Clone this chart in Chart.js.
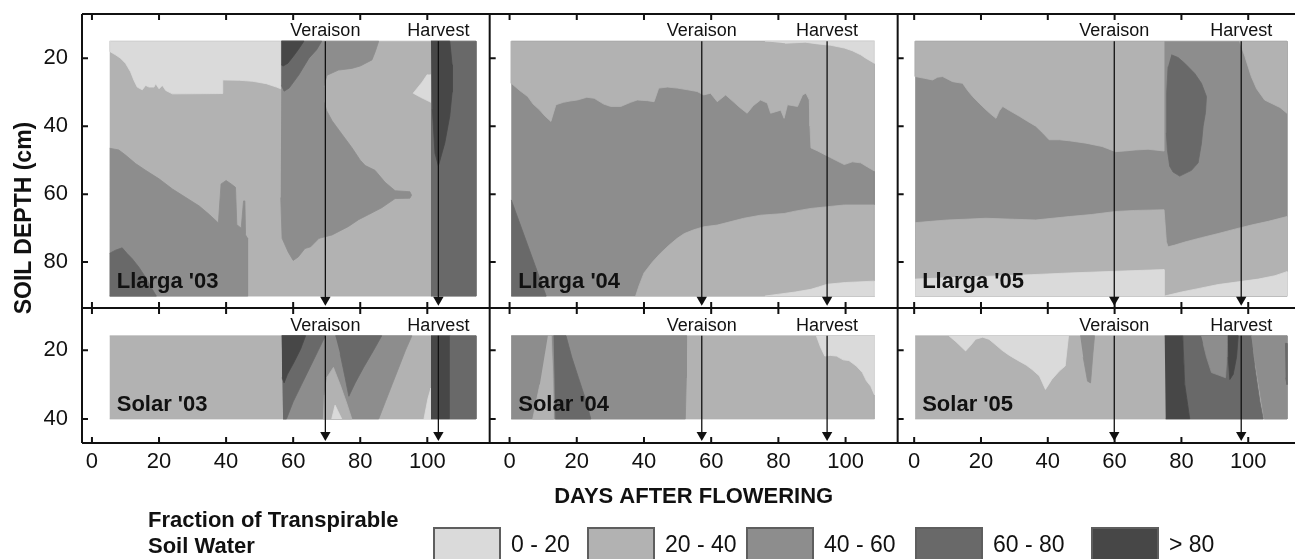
<!DOCTYPE html>
<html>
<head>
<meta charset="utf-8">
<script src="https://cdn.jsdelivr.net/npm/chart.js@4.4.0/dist/chart.umd.min.js"></script>
<style>
	body { margin: 0; background: #fff; width: 1301px; height: 559px; overflow: hidden; position: relative; font-family: 'Liberation Sans', Arial, sans-serif; color: #111; }
	#chart { position: absolute; left: 0; top: 0; }
	#ytitle { position: absolute; left: -97px; top: 205px; width: 240px; text-align: center; font: bold 23px 'Liberation Sans', Arial, sans-serif; line-height: 26px; transform: rotate(-90deg); }
	.ltitle { position: absolute; left: 148px; font: bold 22px 'Liberation Sans', Arial, sans-serif; line-height: 22px; white-space: nowrap; }
	.swatch { position: absolute; top: 527px; width: 64px; height: 36px; border: 2px solid #5e5e5e; }
	.slabel { position: absolute; top: 533px; font: 23px 'Liberation Sans', Arial, sans-serif; line-height: 23px; white-space: nowrap; }
</style>
</head>
<body>
<canvas id="chart" width="1301" height="559"></canvas>
<div id="ytitle">SOIL DEPTH (cm)</div>
<div id="legend"></div>
<script>
// fraction of transpirable soil water classes (%), lightest = driest
const fractionClasses = ["0 - 20", "20 - 40", "40 - 60", "60 - 80", "> 80"];
const classColors = ["#dadada", "#b2b2b2", "#8d8d8d", "#696969", "#474747"];

const panelNames = ["Llarga '03", "Llarga '04", "Llarga '05", "Solar '03", "Solar '04", "Solar '05"];
const dayTicks = [0, 20, 40, 60, 80, 100];
const depthTicksLlarga = [20, 40, 60, 80];
const depthTicksSolar = [20, 40];

// phenology per season ('03, '04, '05), days after flowering
const veraisonDay = [69.6, 57.2, 59.9];
const harvestDay = [103.3, 94.5, 97.9];

// record extent: first/last day per season, depth per site (cm)
const firstDay = [5.3, 0.5, 0.3];
const lastDay = [114.5, 108.6, 111.6];
const depthRangeLlarga = [15, 90];
const depthRangeSolar = [15.8, 40];
const arrowEnd = [91.1, 44.7];

// class that fills each panel before the contours are laid on
const baseClass = [1, 2, 2, 1, 1, 1];

// ---- Llarga '03 contours [day, depth]
const l03Dry = [[5.3,15],[5.3,18],[7,19],[8.5,20],[10,21.5],[11.5,24],[12.5,26.5],[13.5,28.5],[15,29.3],[16,28],[17,28.5],[18.5,28.5],[19,27.5],[20,29],[21,28],[22,29.5],[24,30.5],[39,30.4],[39,26.4],[44,26.5],[48,26.8],[52,27.5],[55,28.5],[56.3,29],[56.3,15]];
const l03DryPocket = [[100,24.8],[98.5,27],[95.8,30.3],[98,31.5],[101.1,33],[101.1,24.8]];
const l03Deep = [[5.3,46.5],[8,47],[10,48.5],[13,51],[16,53],[20,55.5],[24,58.5],[28,61],[32,63.5],[35,66],[37.7,68.5],[38.5,57],[40,56],[41.5,57],[42.8,58],[43.2,69],[44.5,70],[45.2,62],[45.6,62],[45.8,72],[46.4,73],[46.4,90],[5.3,90]];
const l03Corner = [[5.3,77.4],[7,76.5],[9,75.8],[10.5,77.5],[12,79],[14,81.5],[16,84.5],[18,88],[19.2,90],[5.3,90]];
const l03Veraison = [[56.5,15],[85.5,15],[84.5,18],[83.5,20.5],[80,22.3],[77.5,23],[73.5,23.5],[70.1,25],[69.1,28.5],[69.1,32.5],[70,35.5],[71.6,38.4],[74.5,42.3],[77.5,46.3],[80,50],[81.5,51.6],[84.4,53],[87.4,56.5],[90.4,59],[94.8,59.3],[95.3,60.3],[94.8,61.2],[90.4,61.3],[86.4,64],[82.5,66],[79.5,67.5],[76.5,69.5],[71.6,72],[67.7,73],[65.2,75.5],[63.5,76],[61.5,78.5],[60,79.5],[58.5,77],[56.7,73],[56.3,61]];
const l03VeraisonWet = [[56.5,15],[68.5,15],[67,17.5],[64.7,20],[61.7,24.9],[58.8,28.8],[57.3,29.7],[56.5,28]];
const l03VeraisonWettest = [[56.5,15],[63.2,15],[61.5,17.5],[60,19.5],[58.4,21.5],[57,22.3],[56.5,22]];
const l03Harvest = [[101.1,15],[114.5,15],[114.5,90],[101.1,90]];
const l03HarvestWettest = [[101.1,15],[106.7,15],[107.4,22],[107.4,30],[106.7,37],[105.2,45],[103.3,51.7],[102.3,48],[101.5,35]];

// ---- Llarga '04
const l04Upper = [[0.5,15],[0.5,27.4],[3,29.5],[5.4,31.3],[7,33.5],[8.9,35.2],[10.5,37],[12.3,38.6],[13.8,33.7],[16,33],[18,32.6],[20.2,32.3],[23,31.5],[25.2,31.8],[28,33.5],[30.1,34.2],[33.1,34.2],[36,33],[38,32.3],[41,32.5],[43,32.8],[44.4,28.8],[47,28.5],[49.9,28.8],[53,29.3],[55.8,29.8],[57.8,30.8],[59.8,30.3],[61.8,32.8],[64.3,30.8],[66.8,33],[68.5,34.5],[70.7,36.2],[72.5,34],[74.7,32.3],[76.7,33.2],[77.7,36.2],[80.7,35.3],[81.7,37.7],[82.7,33.7],[85.7,34.2],[87.2,30.8],[88.2,30.3],[89.2,32.3],[89.4,40],[89.7,46.4],[91.7,47.3],[95.6,49.3],[99.6,51.3],[102,50.5],[104.5,50.8],[106.5,52],[108.6,53.2],[108.6,15]];
const l04TopDry = [[76,15],[108.6,15],[108.6,21.5],[106,20],[104.5,19],[102,17.8],[99.6,17],[95.6,16.2],[91.7,15.8],[88,15.3],[82,15.6]];
const l04Lower = [[37.5,90],[38.5,87],[40,83.2],[42.5,80],[44.9,77.4],[47.5,75],[49.9,73],[52,71.6],[54.8,70.5],[57.8,69.6],[61.8,69.1],[65,68.3],[69.7,67.1],[74.7,66.2],[81.7,65.7],[85,65],[89.7,64.2],[94.6,63.7],[99.6,63.2],[108.6,63.2],[108.6,90]];
const l04BottomDry = [[76,90],[79.7,89.5],[85,88.8],[89.7,88],[92,87.3],[94.6,86.5],[100,86],[108.6,85.6],[108.6,90]];
const l04Corner = [[0.5,61.7],[10.9,90],[0.5,90]];

// ---- Llarga '05
const l05UpperLeft = [[0.3,15],[0.3,25.4],[3,25.9],[5.5,26.4],[7,25.6],[8.5,25.4],[11.5,26.9],[14.5,27.4],[16,29.5],[17.5,31.3],[19.5,33.3],[21.5,35.2],[23,36.5],[24.5,37.7],[25.5,35.5],[26.5,34.2],[28.5,35.4],[31.5,37.1],[34,38.6],[36.4,40],[38.5,42],[40.4,44],[43.5,44],[46.4,44.3],[51.4,45],[56.3,46],[60.3,47.5],[63,47.3],[66.2,47],[70,46.8],[74.8,47.3],[74.8,15]];
const l05UpperRight = [[97.4,15],[99,19.5],[100.9,25.4],[102.5,29],[104.9,32.3],[107.8,33.7],[109.5,34.5],[111.6,36.2],[111.6,15]];
const l05Pocket = [[77,19],[79,19.8],[81,21.5],[84,24.5],[86,27.4],[87.5,31.3],[87.2,36],[86.5,40],[86,45],[85,50.8],[83,53],[79.5,54.7],[77.5,53.5],[76.5,51.8],[75.8,47],[75.5,42],[75.6,30],[76,22.5]];
const l05Lower = [[0.3,68.4],[5,68],[10,67.6],[15,67.4],[21.5,67.1],[30,67.4],[36.4,67.6],[46.4,66.6],[53,66],[60.3,65.1],[66,64.8],[74.8,64.6],[75.5,74],[76,75.5],[78,75],[81,74.1],[86,72.8],[91,71.6],[96,70.3],[100.9,69.1],[106,68],[111.6,66.6],[111.6,90],[0.3,90]];
const l05BottomLeft = [[0.3,85],[10,84.6],[21.5,84.2],[35,83.7],[46.4,83.2],[60.3,82.7],[74.8,82.2],[74.8,90],[0.3,90]];
const l05BottomRight = [[74.9,90],[80,88.8],[85,87.8],[91,86.6],[97,85.8],[103,85],[108,84],[111.6,82.8],[111.6,90]];

// ---- Solar '03
const s03Mid = [[56.6,15.8],[95.4,15.8],[93.5,20],[91.5,25],[89.5,30],[87.5,35],[85.5,40],[57,40]];
const s03WetBand = [[56.6,15.8],[69.6,15.8],[67.5,20],[65,25],[62.5,30],[60,35],[58,40],[57,40]];
const s03Wedge = [[56.6,15.8],[63.7,15.8],[62.2,19.7],[60.2,23.6],[58.3,27],[57.3,29.5],[56.7,28]];
const s03Gap = [[70,28],[72,25],[74,30],[76,35.5],[77.5,40],[69,40],[69.3,33]];
const s03GapDry = [[71.5,40],[72.5,36],[74.5,40]];
const s03Vee = [[72.6,15.8],[86.4,15.8],[84,20],[81,25],[78.5,29.5],[76.6,33.4],[75.5,28],[74,21]];
const s03DryRight = [[99,40],[100.2,34],[101.1,31],[101.1,40]];
const s03Harvest = [[101.1,15.8],[106.7,15.8],[106.7,40],[101.1,40]];
const s03HarvestRight = [[106.7,15.8],[114.5,15.8],[114.5,40],[106.7,40]];

// ---- Solar '04
const s04Left = [[0.5,15.8],[52.7,15.8],[52.6,28],[52.3,40],[0.5,40]];
const s04Streak = [[11.4,15.8],[12.4,15.8],[12.9,28],[13.1,40],[6.9,40],[9,30]];
const s04Band = [[13.1,15.8],[16.8,15.8],[18.5,22],[20.5,28],[22.5,34],[24.2,40],[13.6,40]];
const s04TopDry = [[91.3,15.8],[92.5,19],[93.8,21.7],[95.5,21.5],[97.3,21.7],[99.3,22.8],[101,23],[103.2,24.6],[105,26.5],[106.2,28.9],[107.5,30.5],[108.6,33],[108.6,15.8]];

// ---- Solar '05
const s05Dry = [[10.4,15.8],[12.5,17.5],[15.4,20.2],[17,18.5],[18.4,16.8],[20.5,16.2],[22.4,16.8],[24.5,18.5],[26.3,20],[28.5,21.5],[31.3,23.1],[33.5,24.3],[35.3,25.6],[37.5,27.5],[39.3,31.4],[41.2,28.5],[43.5,26],[45.2,24.6],[46.2,15.8]];
const s05Streak = [[49.7,15.8],[54,15.8],[53.5,21],[52.8,29.5],[51.9,29],[50.6,22]];
const s05Wet = [[80.4,15.8],[101,15.8],[102,25],[103.5,35],[104.5,40],[82.5,40],[81,30]];
const s05WetBand = [[75,15.8],[80.4,15.8],[81,30],[82.5,40],[75.3,40]];
const s05Tongue = [[85.9,15.8],[93.7,15.8],[93.6,22],[93.2,28],[91,27.2],[89,26.5],[87.5,22],[86.5,18]];
const s05Spike = [[93.9,15.8],[97,15.8],[96.5,22],[95.5,27],[94.5,28.5],[94,22]];
const s05Right = [[100.9,15.8],[111.6,15.8],[111.6,40],[104.8,40],[103.5,32],[102.5,26],[101.5,20]];
const s05Edge = [[111,18],[111.6,18],[111.6,30],[111.2,28]];

// layers per panel, painted in this order: [class, polygon]
const panelLayers = [
	[[0, l03Dry], [0, l03DryPocket], [2, l03Deep], [3, l03Corner], [2, l03Veraison], [3, l03VeraisonWet], [4, l03VeraisonWettest], [3, l03Harvest], [4, l03HarvestWettest]],
	[[1, l04Upper], [0, l04TopDry], [1, l04Lower], [0, l04BottomDry], [3, l04Corner]],
	[[1, l05UpperLeft], [1, l05UpperRight], [3, l05Pocket], [1, l05Lower], [0, l05BottomLeft], [0, l05BottomRight]],
	[[2, s03Mid], [3, s03WetBand], [4, s03Wedge], [1, s03Gap], [0, s03GapDry], [3, s03Vee], [0, s03DryRight], [4, s03Harvest], [3, s03HarvestRight]],
	[[2, s04Left], [1, s04Streak], [3, s04Band], [0, s04TopDry]],
	[[0, s05Dry], [2, s05Streak], [3, s05Wet], [4, s05WetBand], [2, s05Tongue], [4, s05Spike], [2, s05Right], [3, s05Edge]]
];

Chart.defaults.font.family = "'Liberation Sans', Arial, sans-serif";
Chart.defaults.color = "#111";

const xIds = ["x0", "x1", "x2"];
const yIds = ["yt", "yb"];
const depthRanges = [depthRangeLlarga, depthRangeSolar];

// build datasets in paint order
let layers = [];
for (let p = 0; p < 6; p++) {
	const col = p % 3;
	const row = Math.floor(p / 3);
	const [d0, d1] = depthRanges[row];
	const rect = [[firstDay[col], d0], [lastDay[col], d0], [lastDay[col], d1], [firstDay[col], d1]];
	const all = [[baseClass[p], rect]].concat(panelLayers[p]);
	for (let [cls, poly] of all) {
		layers.push({
			data: poly.map(([x, y]) => ({x: x, y: y})),
			xAxisID: xIds[col],
			yAxisID: yIds[row],
			showLine: true,
			fill: "shape",
			backgroundColor: classColors[cls],
			borderColor: classColors[cls],
			borderWidth: 0.8,
			pointRadius: 0,
			tension: 0
		});
	}
}
// veraison / harvest arrows
for (let row = 0; row < 2; row++) {
	for (let col = 0; col < 3; col++) {
		for (let day of [veraisonDay[col], harvestDay[col]]) {
			layers.push({
				data: [{x: day, y: depthRanges[row][0]}, {x: day, y: arrowEnd[row]}],
				xAxisID: xIds[col],
				yAxisID: yIds[row],
				showLine: true,
				fill: false,
				borderColor: "#111",
				borderWidth: 1.3,
				pointRadius: [0, 6],
				pointStyle: "triangle",
				pointRotation: 180,
				pointBackgroundColor: "#111",
				pointBorderWidth: 0
			});
		}
	}
}
// later layers must be drawn on top: higher order is drawn first
layers.forEach((ds, i) => { ds.order = layers.length - i; });

// frame, inward ticks and panel annotations
const panelFrame = {
	id: "panelFrame",
	afterDatasetsDraw(chart) {
		const ctx = chart.ctx;
		const a = chart.chartArea;
		const cols = xIds.map(id => chart.scales[id]);
		const rows = yIds.map(id => chart.scales[id]);
		const rowTicks = [depthTicksLlarga, depthTicksSolar];
		ctx.save();
		ctx.fillStyle = "#111";
		rows.forEach((ys, r) => {
			cols.forEach((xs, c) => {
				const top = ys.getPixelForValue(depthRanges[r][0]);
				ctx.font = "18px 'Liberation Sans'";
				ctx.textAlign = "center";
				ctx.textBaseline = "alphabetic";
				ctx.fillText("Veraison", xs.getPixelForValue(veraisonDay[c]), top - 5);
				ctx.fillText("Harvest", xs.getPixelForValue(harvestDay[c]), top - 5);
				ctx.font = "bold 22px 'Liberation Sans'";
				ctx.textAlign = "left";
				ctx.fillText(panelNames[r * 3 + c], xs.getPixelForValue(firstDay[c]) + 7, ys.getPixelForValue(depthRanges[r][1]) - 8);
			});
		});
		ctx.strokeStyle = "#111";
		ctx.lineWidth = 2;
		ctx.beginPath();
		for (let y of [a.top, rows[0].bottom, a.bottom]) {
			ctx.moveTo(a.left, y);
			ctx.lineTo(a.right, y);
		}
		for (let xs of cols) {
			ctx.moveTo(xs.left, a.top);
			ctx.lineTo(xs.left, a.bottom);
		}
		rows.forEach((ys, r) => {
			cols.forEach(xs => {
				for (let v of dayTicks) {
					const px = xs.getPixelForValue(v);
					ctx.moveTo(px, ys.top);
					ctx.lineTo(px, ys.top + 6);
					ctx.moveTo(px, ys.bottom);
					ctx.lineTo(px, ys.bottom - 6);
				}
				for (let v of rowTicks[r]) {
					const py = ys.getPixelForValue(v);
					ctx.moveTo(xs.left, py);
					ctx.lineTo(xs.left + 6, py);
				}
			});
		});
		ctx.stroke();
		ctx.restore();
	}
};

function dayAxis(min, max, weight, withTitle) {
	return {
		type: "linear",
		position: "bottom",
		stack: "days",
		stackWeight: weight,
		min: min,
		max: max,
		grid: { display: false, drawTicks: false },
		border: { display: false },
		ticks: { font: { size: 22 }, padding: 6, color: "#111", maxRotation: 0, minRotation: 0, autoSkip: false },
		title: {
			display: withTitle,
			text: "DAYS AFTER FLOWERING",
			font: { size: 22, weight: "bold" },
			color: "#111",
			padding: { top: 0, bottom: 49 }
		},
		afterBuildTicks: s => { s.ticks = dayTicks.map(v => ({value: v})); },
		afterFit: s => { s.height = 116; s.paddingLeft = 0; s.paddingRight = 0; }
	};
}

function depthAxis(min, max, weight, order, ticks) {
	return {
		type: "linear",
		position: "left",
		stack: "depth",
		stackWeight: weight,
		weight: order,
		reverse: true,
		min: min,
		max: max,
		grid: { display: false, drawTicks: false },
		border: { display: false },
		ticks: { font: { size: 22 }, padding: 14, color: "#111", autoSkip: false },
		afterBuildTicks: s => { s.ticks = ticks.map(v => ({value: v})); },
		afterFit: s => { s.width = 82; s.paddingTop = 0; s.paddingBottom = 0; }
	};
}

new Chart(document.getElementById("chart"), {
	type: "scatter",
	data: { datasets: layers },
	options: {
		responsive: false,
		animation: false,
		devicePixelRatio: 1,
		events: [],
		layout: { padding: { top: 14, left: 0, right: 0, bottom: 0 } },
		plugins: { legend: { display: false }, tooltip: { enabled: false } },
		scales: {
			x0: dayAxis(-2.97, 118.6, 409.7, false),
			x1: dayAxis(-5.92, 115.5, 410, true),
			x2: dayAxis(-4.94, 114.0, 399.3, false),
			yt: depthAxis(7, 93.5, 294, 2, depthTicksLlarga),
			yb: depthAxis(7.7, 47, 135, 1, depthTicksSolar)
		}
	},
	plugins: [panelFrame]
});

// legend below the panels
const legendLeft = [433, 587, 746, 915, 1091];
const legend = document.getElementById("legend");
const t1 = document.createElement("div");
t1.className = "ltitle";
t1.style.top = "509px";
t1.textContent = "Fraction of Transpirable";
legend.appendChild(t1);
const t2 = document.createElement("div");
t2.className = "ltitle";
t2.style.top = "535px";
t2.textContent = "Soil Water";
legend.appendChild(t2);
fractionClasses.forEach((label, i) => {
	const box = document.createElement("div");
	box.className = "swatch";
	box.style.left = legendLeft[i] + "px";
	box.style.background = classColors[i];
	legend.appendChild(box);
	const text = document.createElement("div");
	text.className = "slabel";
	text.style.left = (legendLeft[i] + 78) + "px";
	text.textContent = label;
	legend.appendChild(text);
});
</script>
</body>
</html>
